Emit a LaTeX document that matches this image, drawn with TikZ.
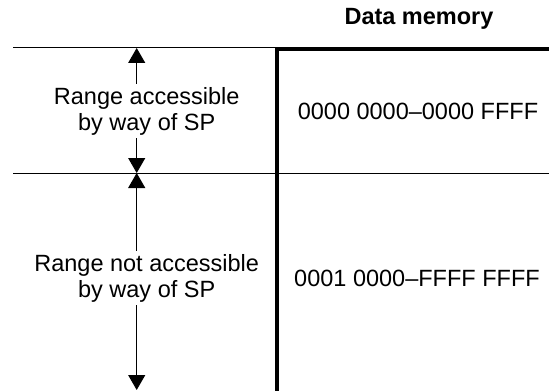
\documentclass[tikz,border=0pt]{standalone}
\usepackage{fontspec}
\setmainfont{Liberation Sans}
\usetikzlibrary{arrows.meta}

\begin{document}
\begin{tikzpicture}[x=0.5pt,y=-0.5pt]
\tikzstyle{txt}=[align=center,font=\fontsize{11.75}{13}\selectfont,inner sep=1.5pt]
\tikzstyle{rangelabel}=[txt,fill=white]
\tikzstyle{span}=[{Triangle[width=8.5pt,length=7.5pt]}-{Triangle[width=8.5pt,length=7.5pt]},line width=0.5pt]
\useasboundingbox (0,0) rectangle (549,390);
% separators
\draw[line width=0.5pt] (13,48) -- (277,48);
\draw[line width=0.5pt] (13,173) -- (549,173);
\draw[line width=2pt] (277,391) -- (277,49.5) -- (551,49.5);
% arrows
\coordinate (top) at (136.7,48);
\coordinate (mid) at (136.7,173);
\coordinate (bot) at (136.7,390);
\draw[span] (top) -- (mid);
\draw[span] (mid) -- (bot);
\node [rangelabel] (acc) at (146.7,111) {Range accessible\\by way of SP};
\node [rangelabel] (noacc) at (146.7,278) {Range not accessible\\by way of SP};
% data memory column
\node [txt,font=\fontsize{11.75}{13}\selectfont\bfseries] (title) at (419,19) {Data memory};
\node [txt] (low) at (418,111) {0000 0000\textendash0000 FFFF};
\node [txt] (high) at (417,278) {0001 0000\textendash FFFF FFFF};
\end{tikzpicture}
\end{document}
